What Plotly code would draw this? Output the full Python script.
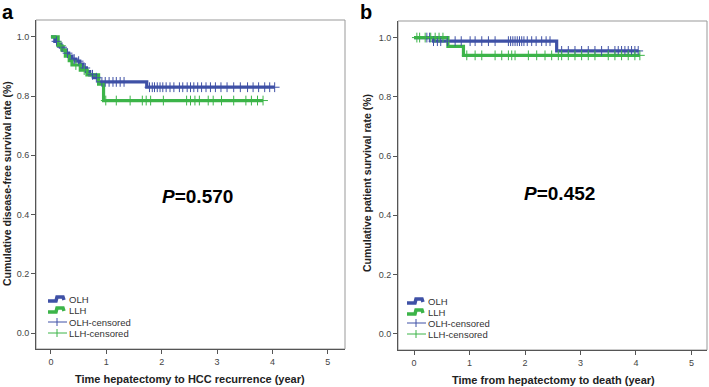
import numpy as np
import plotly.graph_objects as go

W, H = 709, 387
BLUE = "#3F51A6"
GREEN = "#3CB449"

# ---- data ----
x_ticks = [0, 1, 2, 3, 4, 5]
y_ticks = [0.0, 0.2, 0.4, 0.6, 0.8, 1.0]
y_tick_labels = ["0.0", "0.2", "0.4", "0.6", "0.8", "1.0"]

# Panel a: disease-free survival
olh_a_t = [0.07, 0.12, 0.17, 0.22, 0.27, 0.32, 0.38, 0.45, 0.52, 0.58, 0.64, 0.70, 0.78, 0.86, 1.73]
olh_a_s = [0.985, 0.975, 0.965, 0.955, 0.945, 0.935, 0.925, 0.918, 0.908, 0.895, 0.883, 0.872, 0.862, 0.848, 0.83]
llh_a_t = [0.13, 0.20, 0.26, 0.33, 0.38, 0.53, 0.65, 0.86, 0.95]
llh_a_s = [0.97, 0.955, 0.935, 0.92, 0.905, 0.888, 0.872, 0.84, 0.785]
olh_a_c = [0.10, 0.20, 0.30, 0.42, 0.50, 0.62, 0.75, 0.82, 0.92, 0.98, 1.05, 1.12, 1.18, 1.25, 1.32,
           1.78, 1.83, 1.87, 1.92, 1.97, 2.02, 2.08, 2.15, 2.22, 2.32, 2.38, 2.46, 2.52, 2.58, 2.65,
           2.72, 2.80, 2.88, 2.97, 3.07, 3.18, 3.30, 3.42, 3.55, 3.65, 3.75, 3.86, 3.95, 4.04]
llh_a_c = [0.18, 0.45, 0.60, 0.99, 1.18, 1.43, 1.65, 1.72, 1.80, 2.03, 2.45, 2.52, 2.60, 2.68, 2.84,
           2.93, 3.08, 3.30, 3.52, 3.62, 3.73, 3.83]

# Panel b: patient survival
olh_b_t = [0.35, 2.57]
olh_b_s = [0.988, 0.955]
llh_b_t = [0.61, 0.89]
llh_b_s = [0.97, 0.94]
olh_b_c = [0.23, 0.28, 0.35, 0.42, 0.48, 0.60, 0.74, 0.85, 1.01, 1.10, 1.22, 1.34, 1.46, 1.70, 1.74,
           1.78, 1.82, 1.86, 1.90, 1.94, 1.98, 2.04, 2.12, 2.20, 2.30, 2.38, 2.45, 2.66, 2.78, 2.90,
           3.02, 3.14, 3.26, 3.38, 3.50, 3.62, 3.68, 3.74, 3.80, 3.86, 3.92, 3.98, 4.04]
llh_b_c = [0.05, 0.10, 0.20, 0.30, 0.38, 0.45, 0.52, 0.95, 1.10, 1.22, 1.46, 1.58, 1.70, 1.76, 1.82,
           2.06, 2.21, 2.36, 2.48, 2.60, 2.66, 2.78, 2.90, 3.02, 3.14, 3.26, 3.50, 3.62, 3.74, 3.86,
           3.98, 4.07]

groups = ["OLH", "LLH", "OLH-censored", "LLH-censored"]


def surv_at(times, surv, t):
    s = 1.0
    for ti, si in zip(times, surv):
        if ti <= t:
            s = si
    return s


fig = go.Figure()


def add_km(t, s, c, color, xa, ya):
    end = max(max(c), max(t))
    xs = [0] + list(t) + [end]
    ys = [1.0] + list(s) + [s[-1]]
    fig.add_trace(go.Scatter(x=xs, y=ys, mode="lines", line=dict(color=color, width=3.2, shape="hv"),
                             xaxis=xa, yaxis=ya, showlegend=False, hoverinfo="skip"))
    return [surv_at(t, s, ci) for ci in c]


def add_cens(c, cy, color, xa, ya):
    fig.add_trace(go.Scatter(x=c, y=cy, mode="markers",
                             marker=dict(symbol="cross-thin-open", size=7, color=color,
                                         line=dict(color=color, width=1)),
                             xaxis=xa, yaxis=ya, showlegend=False, hoverinfo="skip"))


cb = add_km(olh_a_t, olh_a_s, olh_a_c, BLUE, "x", "y")
cg = add_km(llh_a_t, llh_a_s, llh_a_c, GREEN, "x", "y")
add_cens(olh_a_c, cb, BLUE, "x", "y")
add_cens(llh_a_c, cg, GREEN, "x", "y")

cb = add_km(olh_b_t, olh_b_s, olh_b_c, BLUE, "x2", "y2")
cg = add_km(llh_b_t, llh_b_s, llh_b_c, GREEN, "x2", "y2")
add_cens(olh_b_c, cb, BLUE, "x2", "y2")
add_cens(llh_b_c, cg, GREEN, "x2", "y2")


def px(x):
    return x / W


def py(y):
    return 1 - y / H


tickfont = dict(family="Liberation Sans, Arial, sans-serif", size=9, color="#444")
axis_common = dict(showgrid=False, zeroline=False, showline=True, linecolor="#555", linewidth=1,
                   ticks="outside", ticklen=4, tickcolor="#555", tickfont=tickfont, mirror=False)

fig.update_layout(
    width=W, height=H, margin=dict(l=0, r=0, t=0, b=0),
    paper_bgcolor="white", plot_bgcolor="white", showlegend=False,
    xaxis=dict(domain=[px(36), px(345)], range=[-0.27, 5.31], tickvals=x_ticks, anchor="y", **axis_common),
    yaxis=dict(domain=[py(349), py(20)], range=[-0.054, 1.057], tickvals=y_ticks, ticktext=y_tick_labels,
               anchor="x", **axis_common),
    xaxis2=dict(domain=[px(398), px(707)], range=[-0.29, 5.28], tickvals=x_ticks, anchor="y2", **axis_common),
    yaxis2=dict(domain=[py(350), py(21)], range=[-0.055, 1.056], tickvals=y_ticks, ticktext=y_tick_labels,
                anchor="x2", **axis_common),
)

shapes = []
# light frame around each plot area
for (x0, y0, x1, y1) in [(36, 20, 345, 349), (398, 21, 707, 350)]:
    shapes.append(dict(type="rect", xref="paper", yref="paper", x0=px(x0), x1=px(x1), y0=py(y1), y1=py(y0),
                       line=dict(color="#999", width=1), fillcolor="rgba(0,0,0,0)", layer="below"))

annotations = []
font_b = "Liberation Sans, Arial, sans-serif"


def legend(x0, ys):
    colors = [BLUE, GREEN, BLUE, GREEN]
    for i, (lab, y, col) in enumerate(zip(groups, ys, colors)):
        if i < 2:
            path = "M {},{} L {},{} L {},{} L {},{} L {},{}".format(
                px(x0), py(y + 2), px(x0 + 8), py(y + 2), px(x0 + 9), py(y - 2),
                px(x0 + 15), py(y - 2), px(x0 + 16), py(y + 1))
            shapes.append(dict(type="path", xref="paper", yref="paper", path=path,
                               line=dict(color=col, width=3.5)))
        else:
            shapes.append(dict(type="line", xref="paper", yref="paper", x0=px(x0), x1=px(x0 + 19),
                               y0=py(y), y1=py(y), line=dict(color=col, width=1)))
            shapes.append(dict(type="line", xref="paper", yref="paper", x0=px(x0 + 9), x1=px(x0 + 9),
                               y0=py(y - 4), y1=py(y + 4), line=dict(color=col, width=1)))
        annotations.append(dict(x=px(x0 + 19), y=py(y), xref="paper", yref="paper", text=lab,
                                showarrow=False, xanchor="left", yanchor="middle",
                                font=dict(family=font_b, size=9.5, color="#333")))


legend(48, [299, 310, 322, 333])
legend(407, [301, 312, 323, 334])


def ann(x, y, text, size, angle=0, color="black", xanchor="center"):
    annotations.append(dict(x=px(x), y=py(y), xref="paper", yref="paper", text=text, showarrow=False,
                            xanchor=xanchor, yanchor="middle", textangle=angle,
                            font=dict(family=font_b, size=size, color=color)))


# panel letters
ann(0, 12, "<b>a</b>", 20, xanchor="left")
ann(358, 12, "<b>b</b>", 20, xanchor="left")

# P values
ann(197, 196, "<b><i>P</i>=0.570</b>", 19)
ann(559, 193, "<b><i>P</i>=0.452</b>", 19)

# axis titles
ann(190, 379, "<b>Time hepatectomy to HCC recurrence (year)</b>", 11, color="#222")
ann(553, 380, "<b>Time from hepatectomy to death (year)</b>", 11, color="#222")
ann(7, 184, "<b>Cumulative disease-free survival rate (%)</b>", 10.5, angle=-90, color="#222")
ann(367, 183, "<b>Cumulative patient survival rate (%)</b>", 10.5, angle=-90, color="#222")

fig.update_layout(shapes=shapes, annotations=annotations)
fig.write_html("out.html", config={"displayModeBar": False},
               post_script="document.body.style.margin='0px';document.body.style.padding='0px';")
